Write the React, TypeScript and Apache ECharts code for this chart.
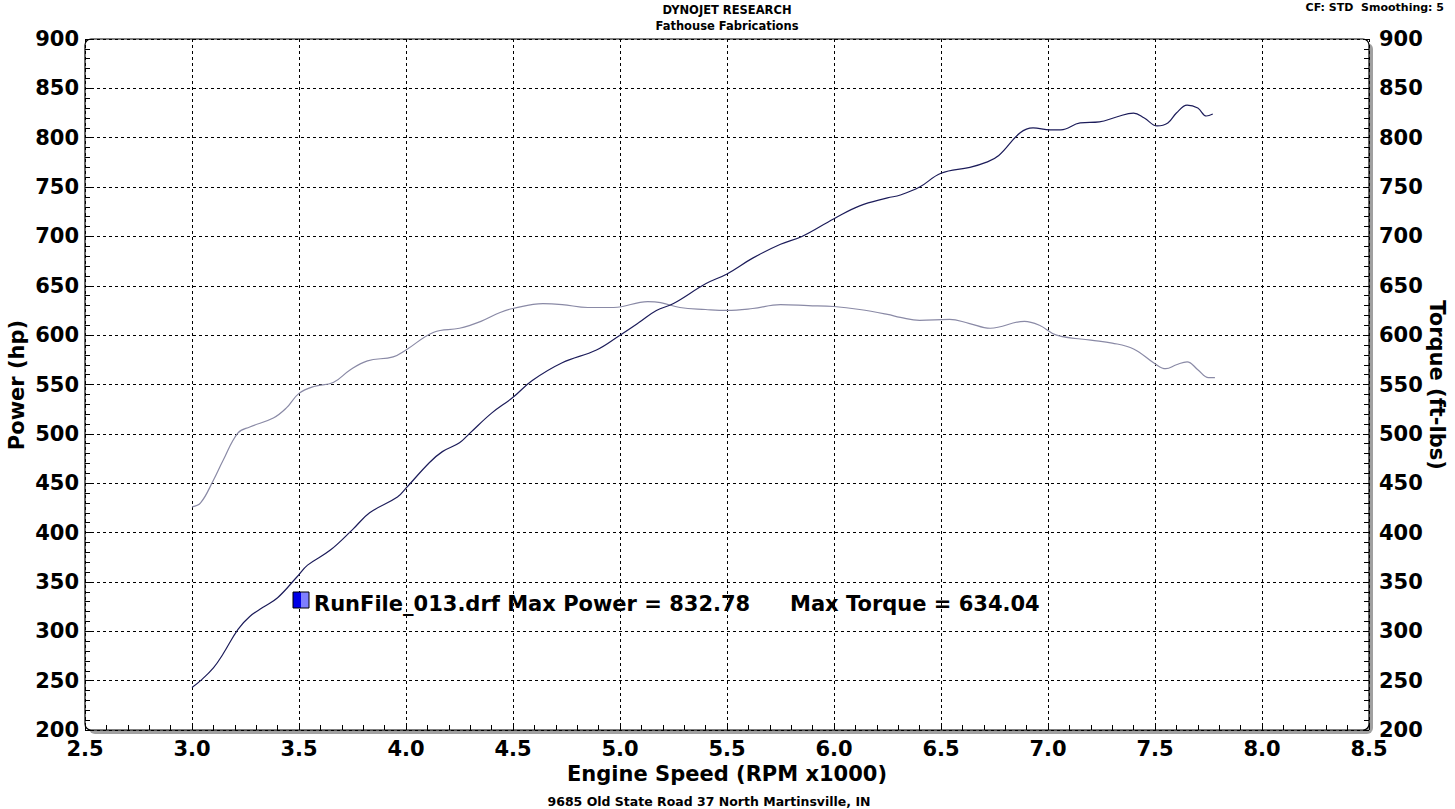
import React, { useEffect, useRef } from "react";
import * as echarts from "echarts";

const powerRpm = [3.0, 3.04, 3.1, 3.145, 3.215, 3.27, 3.33, 3.4, 3.49, 3.54, 3.645, 3.75, 3.83, 3.96, 4.0, 4.11, 4.17, 4.25, 4.3, 4.4, 4.5, 4.59, 4.73, 4.89, 5.0, 5.09, 5.17, 5.25, 5.4, 5.5, 5.62, 5.75, 5.85, 6.0, 6.12, 6.25, 6.31, 6.4, 6.5, 6.635, 6.71, 6.77, 6.87, 6.93, 7.01, 7.06, 7.15, 7.24, 7.32, 7.4, 7.45, 7.51, 7.56, 7.6, 7.65, 7.7, 7.74, 7.77];
const powerHp = [243, 250, 263, 277, 302, 315, 324, 334, 355, 367, 382, 403, 420, 436, 445, 471, 482, 491, 501, 521, 537, 554, 572, 585, 600, 613, 625, 632, 652, 662, 678, 692, 700, 718, 731, 739, 742, 750, 764, 770, 775, 782, 805, 810, 808, 808, 815, 816, 821, 825, 820, 812, 815, 825, 833, 830, 822, 824];

const torqueRpm = [3.0, 3.04, 3.1, 3.145, 3.215, 3.27, 3.38, 3.44, 3.5, 3.57, 3.66, 3.74, 3.82, 3.94, 4.0, 4.13, 4.25, 4.35, 4.44, 4.5, 4.64, 4.73, 4.85, 4.97, 5.13, 5.19, 5.28, 5.4, 5.5, 5.62, 5.75, 5.88, 6.0, 6.12, 6.25, 6.31, 6.4, 6.54, 6.63, 6.73, 6.89, 6.96, 7.04, 7.2, 7.3, 7.4, 7.5, 7.55, 7.6, 7.65, 7.7, 7.75, 7.78];
const torqueFtLbs = [426, 430, 453, 473, 501, 507, 516, 526, 541, 548, 552, 565, 574, 578, 585, 603, 607, 614, 623, 627, 632, 631, 628, 628, 634, 633, 628, 626, 625, 627, 631, 630, 629, 626, 621, 618, 615, 616, 612, 607, 614, 610, 600, 595, 592, 586, 571, 566, 570, 573, 565, 557, 557];

const headerTitle = "DYNOJET RESEARCH";
const headerSub = "Fathouse Fabrications";
const headerRight = "CF: STD  Smoothing: 5";
const footerText = "9685 Old State Road 37 North Martinsville, IN";
const xAxisName = "Engine Speed (RPM x1000)";
const leftAxisName = "Power (hp)";
const rightAxisName = "Torque (ft-lbs)";
const legendRun = "RunFile_013.drf Max Power = 832.78";
const legendTorque = "Max Torque = 634.04";

const FONT = "'DejaVu Sans', Verdana, sans-serif";

const GL = 85, GT = 39, GW = 1284, GH = 691;

export default function App() {
  const ref = useRef<HTMLDivElement>(null);
  useEffect(() => {
    if (!ref.current) return;
    const chart = echarts.init(ref.current, null, { renderer: "svg" });
    const axisLabel = { fontFamily: FONT, fontWeight: "bold", fontSize: 21, color: "#000" };
    const splitLine = { show: true, lineStyle: { color: "#000", type: [3, 3], width: 1 } };
    const yCommon = {
      type: "value",
      min: 200,
      max: 900,
      interval: 50,
      axisLine: { show: false },
      axisTick: { show: true, inside: true, length: 6, lineStyle: { color: "#000" } },
      minorTick: { show: true, splitNumber: 5, length: 5, lineStyle: { color: "#000" } },
      splitLine,
    };
    chart.setOption({
      animation: false,
      backgroundColor: "#fff",
      grid: { left: GL, top: GT, width: GW, height: GH, containLabel: false },
      xAxis: {
        type: "value",
        min: 2.5,
        max: 8.5,
        interval: 0.5,
        axisLine: { show: false },
        axisTick: { show: true, inside: true, length: 6, lineStyle: { color: "#000" } },
        minorTick: { show: true, splitNumber: 5, length: 5, lineStyle: { color: "#000" } },
        splitLine,
        axisLabel: { ...axisLabel, margin: 8, formatter: (v: number) => v.toFixed(1) },
      },
      yAxis: [
        { ...yCommon, position: "left", axisLabel: { ...axisLabel, margin: 6 } },
        { ...yCommon, position: "right", splitLine: { show: false }, axisLabel: { ...axisLabel, margin: 10 } },
      ],
      series: [
        {
          type: "line",
          name: "Power",
          yAxisIndex: 0,
          data: powerRpm.map((x, i) => [x, powerHp[i]]),
          smooth: 0.4,
          showSymbol: false,
          lineStyle: { color: "#1c1c5a", width: 1.2 },
          z: 3,
        },
        {
          type: "line",
          name: "Torque",
          yAxisIndex: 1,
          data: torqueRpm.map((x, i) => [x, torqueFtLbs[i]]),
          smooth: 0.4,
          showSymbol: false,
          lineStyle: { color: "#8a8aa6", width: 1.2 },
          z: 2,
        },
      ],
      graphic: [
        { type: "rect", z: -20, silent: true, shape: { x: GL + 4, y: GT + 4, width: GW, height: GH, r: 6 }, style: { fill: "#a0a0a0" } },
        { type: "rect", z: -19, silent: true, shape: { x: GL, y: GT, width: GW, height: GH, r: 6 }, style: { fill: "#fff", stroke: "#000", lineWidth: 1.2 } },
        { type: "text", x: 727, y: 10, style: { text: headerTitle, font: `bold 11.5px ${FONT}`, fill: "#000", textAlign: "center", textVerticalAlign: "middle" } },
        { type: "text", x: 727, y: 26, style: { text: headerSub, font: `bold 11.5px ${FONT}`, fill: "#000", textAlign: "center", textVerticalAlign: "middle" } },
        { type: "text", x: 1444, y: 7, style: { text: headerRight, font: `bold 11px ${FONT}`, fill: "#000", textAlign: "right", textVerticalAlign: "middle" } },
        { type: "text", x: 727, y: 774, style: { text: xAxisName, font: `bold 21px ${FONT}`, fill: "#000", textAlign: "center", textVerticalAlign: "middle" } },
        { type: "text", x: 709, y: 801, style: { text: footerText, font: `bold 12.5px ${FONT}`, fill: "#000", textAlign: "center", textVerticalAlign: "middle" } },
        { type: "text", x: 17, y: 385, rotation: Math.PI / 2, style: { text: leftAxisName, font: `bold 21px ${FONT}`, fill: "#000", textAlign: "center", textVerticalAlign: "middle" } },
        { type: "text", x: 1437, y: 385, rotation: -Math.PI / 2, style: { text: rightAxisName, font: `bold 21px ${FONT}`, fill: "#000", textAlign: "center", textVerticalAlign: "middle" } },
        { type: "rect", z: 10, shape: { x: 293, y: 592, width: 8, height: 16 }, style: { fill: "#0000e6" } },
        { type: "rect", z: 10, shape: { x: 301, y: 592, width: 8, height: 16 }, style: { fill: "#7f7fff" } },
        { type: "rect", z: 11, shape: { x: 293, y: 592, width: 16, height: 16 }, style: { fill: "none", stroke: "#000", lineWidth: 1 } },
        { type: "text", z: 10, x: 314, y: 604, style: { text: legendRun, font: `bold 21px ${FONT}`, fill: "#000", textAlign: "left", textVerticalAlign: "middle" } },
        { type: "text", z: 10, x: 790, y: 604, style: { text: legendTorque, font: `bold 21px ${FONT}`, fill: "#000", textAlign: "left", textVerticalAlign: "middle" } },
      ],
    });
    return () => chart.dispose();
  }, []);
  return <div ref={ref} style={{ position: "fixed", left: 0, top: 0, width: 1455, height: 809, background: "#fff" }} />;
}
